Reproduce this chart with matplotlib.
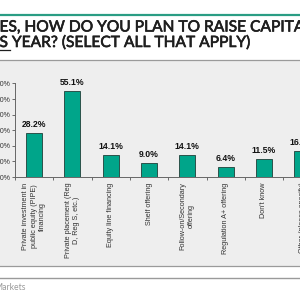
import matplotlib
matplotlib.use("Agg")
import matplotlib.pyplot as plt
from matplotlib.patches import Rectangle
from matplotlib.lines import Line2D
import matplotlib.patheffects as pe
import numpy as np

categories = [
    "Private investment in\npublic equity (PIPE)\nfinancing",
    "Private placement (Reg\nD, Reg S, etc.)",
    "Equity line financing",
    "Shelf offering",
    "Follow-on/Secondary\noffering",
    "Regulation A+ offering",
    "Don't know",
    "Other (please specify)",
]
values = [28.2, 55.1, 14.1, 9.0, 14.1, 6.4, 11.5, 16.7]
yticks = [0, 10, 20, 30, 40, 50, 60]
ytick_labels = ["0.0%", "10.0%", "20.0%", "30.0%", "40.0%", "50.0%", "60.0%"]

W = H = 300
fig = plt.figure(figsize=(3, 3), dpi=100)
fig.patch.set_facecolor("white")

def fy(p):
    return 1 - p / H

def fx(p):
    return p / W

panel_bg = "#eeeeee"
# gray panel
fig.patches.append(Rectangle((fx(-5), fy(266)), fx(310), fy(60) - fy(266),
                             transform=fig.transFigure, facecolor=panel_bg,
                             edgecolor="#9a9a9a", linewidth=0.9, zorder=-5))
# lower line
fig.lines.append(Line2D([0, 1], [fy(278), fy(278)], transform=fig.transFigure,
                        color="#9a9a9a", linewidth=1.0, zorder=-5))
# teal top line
fig.lines.append(Line2D([0, 1], [fy(14.5), fy(14.5)], transform=fig.transFigure,
                        color="#2a9d84", linewidth=1.6, zorder=-5))

title_color = "#1e1e1e"
title_font = dict(family="Lato", fontsize=11.2, color=title_color,
                  path_effects=[pe.withStroke(linewidth=0.45, foreground=title_color)])
fig.text(fx(-0.5), fy(31.5), "ES, HOW DO YOU PLAN TO RAISE CAPITAL",
         ha="left", va="baseline", **title_font)
fig.text(fx(-0.5), fy(47), "S YEAR? (SELECT ALL THAT APPLY)",
         ha="left", va="baseline", **title_font)
fig.lines.append(Line2D([fx(0), fx(10)], [fy(49.5), fy(49.5)], transform=fig.transFigure,
                        color=title_color, linewidth=0.9))

fig.text(fx(-6), fy(290), "Markets", ha="left", va="baseline",
         family="Lato", fontsize=6.2, color="#9a9a9a")

n = len(categories)
spacing = 38.3
ax_left, ax_bottom_px, ax_top_px = 15, 177, 83.4
ax = fig.add_axes([fx(ax_left), fy(ax_bottom_px), fx(spacing * n),
                   fy(ax_top_px) - fy(ax_bottom_px)])
ax.set_zorder(3)
ax.patch.set_alpha(0)

x = np.arange(n)
bars = ax.bar(x, values, width=0.42, color="#00a58a", edgecolor="#1f3f38",
              linewidth=0.6, zorder=3)
for xi, v in zip(x, values):
    ax.annotate(f"{v:.1f}%", (xi, v), xytext=(0, 3.0), textcoords="offset points",
                ha="center", va="bottom", family="Liberation Sans",
                fontweight="bold", fontsize=6.2, color="#111111")

ax.set_xlim(-0.5, n - 0.5)
ax.set_ylim(0, 60)
ax.set_yticks(yticks)
ax.set_yticklabels(ytick_labels, family="Liberation Sans", fontsize=5.0, color="#333333")
ax.tick_params(axis="y", length=2.2, width=0.6, pad=1.0, color="#555555")

ax.set_xticks(x)
ax.set_xticklabels(categories, rotation=90, ha="center", va="top",
                   family="Liberation Sans", fontsize=5.2, color="#333333",
                   linespacing=1.3)
ax.tick_params(axis="x", which="major", length=0, pad=4)
ax.set_xticks(np.arange(-0.5, n, 1), minor=True)
ax.tick_params(axis="x", which="minor", length=2.2, width=0.6, color="#555555")

for s in ["top", "right"]:
    ax.spines[s].set_visible(False)
for s in ["left", "bottom"]:
    ax.spines[s].set_color("#666666")
    ax.spines[s].set_linewidth(0.7)

fig.savefig("out.png", dpi=100, facecolor="white")
